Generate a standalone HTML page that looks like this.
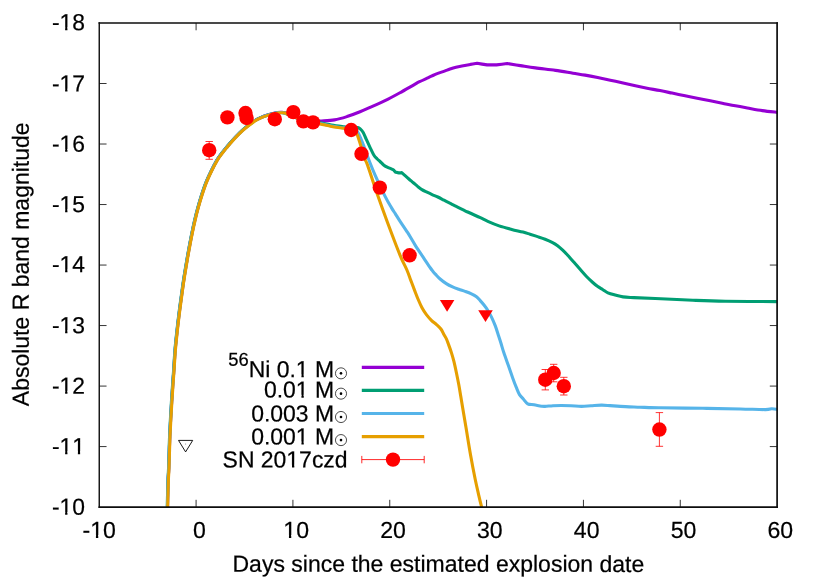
<!DOCTYPE html>
<html><head><meta charset="utf-8"><title>plot</title>
<style>html,body{margin:0;padding:0;background:#fff;}svg{display:block;will-change:transform;}text{font-family:"Liberation Sans",sans-serif;font-size:23.3px;fill:#000;stroke:#000;stroke-width:0.22px;text-rendering:geometricPrecision;font-kerning:none;font-variant-ligatures:none;}</style></head><body>
<svg width="830" height="581" viewBox="0 0 830 581">
<rect x="0" y="0" width="830" height="581" fill="#ffffff"/>
<g stroke="#000" stroke-width="0.8" fill="none" stroke-linecap="butt">
<path d="M99.25,83.51 h7.3 M777.1,83.51 h-7.3"/>
<path d="M99.25,144.03 h7.3 M777.1,144.03 h-7.3"/>
<path d="M99.25,204.54 h7.3 M777.1,204.54 h-7.3"/>
<path d="M99.25,265.05 h7.3 M777.1,265.05 h-7.3"/>
<path d="M99.25,325.56 h7.3 M777.1,325.56 h-7.3"/>
<path d="M99.25,386.08 h7.3 M777.1,386.08 h-7.3"/>
<path d="M99.25,446.59 h7.3 M777.1,446.59 h-7.3"/>
<path d="M196.09,507.1 v-7.3 M196.09,23.0 v7.3"/>
<path d="M292.92,507.1 v-7.3 M292.92,23.0 v7.3"/>
<path d="M389.76,507.1 v-7.3 M389.76,23.0 v7.3"/>
<path d="M486.59,507.1 v-7.3 M486.59,23.0 v7.3"/>
<path d="M583.43,507.1 v-7.3 M583.43,23.0 v7.3"/>
<path d="M680.26,507.1 v-7.3 M680.26,23.0 v7.3"/>
</g>
<g transform="translate(84.95,30.25) rotate(0.03) scale(0.98,1)"><text text-anchor="end" >-18</text><rect x="-25.14" y="-2.89" width="4.94" height="4.09" fill="#fff"/><rect x="-17.86" y="-2.89" width="4.76" height="4.09" fill="#fff"/></g>
<g transform="translate(84.95,91.55) rotate(0.03) scale(0.98,1)"><text text-anchor="end" >-17</text><rect x="-25.14" y="-2.89" width="4.94" height="4.09" fill="#fff"/><rect x="-17.86" y="-2.89" width="4.76" height="4.09" fill="#fff"/></g>
<g transform="translate(84.95,151.8) rotate(0.03) scale(0.98,1)"><text text-anchor="end" >-16</text><rect x="-25.14" y="-2.89" width="4.94" height="4.09" fill="#fff"/><rect x="-17.86" y="-2.89" width="4.76" height="4.09" fill="#fff"/></g>
<g transform="translate(84.95,212.25) rotate(0.03) scale(0.98,1)"><text text-anchor="end" >-15</text><rect x="-25.14" y="-2.89" width="4.94" height="4.09" fill="#fff"/><rect x="-17.86" y="-2.89" width="4.76" height="4.09" fill="#fff"/></g>
<g transform="translate(84.95,272.3) rotate(0.03) scale(0.98,1)"><text text-anchor="end" >-14</text><rect x="-25.14" y="-2.89" width="4.94" height="4.09" fill="#fff"/><rect x="-17.86" y="-2.89" width="4.76" height="4.09" fill="#fff"/></g>
<g transform="translate(84.95,333.25) rotate(0.03) scale(0.98,1)"><text text-anchor="end" >-13</text><rect x="-25.14" y="-2.89" width="4.94" height="4.09" fill="#fff"/><rect x="-17.86" y="-2.89" width="4.76" height="4.09" fill="#fff"/></g>
<g transform="translate(84.95,393.7) rotate(0.03) scale(0.98,1)"><text text-anchor="end" >-12</text><rect x="-25.14" y="-2.89" width="4.94" height="4.09" fill="#fff"/><rect x="-17.86" y="-2.89" width="4.76" height="4.09" fill="#fff"/></g>
<g transform="translate(84.95,454.25) rotate(0.03) scale(0.98,1)"><text text-anchor="end" >-11</text><rect x="-25.14" y="-2.89" width="4.94" height="4.09" fill="#fff"/><rect x="-17.86" y="-2.89" width="4.76" height="4.09" fill="#fff"/><rect x="-12.18" y="-2.89" width="4.94" height="4.09" fill="#fff"/><rect x="-4.90" y="-2.89" width="4.76" height="4.09" fill="#fff"/></g>
<g transform="translate(84.95,514.8) rotate(0.03) scale(0.98,1)"><text text-anchor="end" >-10</text><rect x="-25.14" y="-2.89" width="4.94" height="4.09" fill="#fff"/><rect x="-17.86" y="-2.89" width="4.76" height="4.09" fill="#fff"/></g>
<g transform="translate(99.25,537.9) rotate(0.03) scale(0.99,1)"><text text-anchor="middle" xml:space="preserve">-10</text><rect x="-8.30" y="-2.89" width="4.94" height="4.09" fill="#fff"/><rect x="-1.02" y="-2.89" width="4.76" height="4.09" fill="#fff"/></g>
<text transform="translate(196.09,537.9) rotate(0.03) scale(0.99,1)" text-anchor="middle" xml:space="preserve"> 0</text>
<g transform="translate(292.92,537.9) rotate(0.03) scale(0.99,1)"><text text-anchor="middle" xml:space="preserve"> 10</text><rect x="-8.95" y="-2.89" width="4.94" height="4.09" fill="#fff"/><rect x="-1.66" y="-2.89" width="4.76" height="4.09" fill="#fff"/></g>
<text transform="translate(389.76,537.9) rotate(0.03) scale(0.99,1)" text-anchor="middle" xml:space="preserve"> 20</text>
<text transform="translate(486.59,537.9) rotate(0.03) scale(0.99,1)" text-anchor="middle" xml:space="preserve"> 30</text>
<text transform="translate(583.43,537.9) rotate(0.03) scale(0.99,1)" text-anchor="middle" xml:space="preserve"> 40</text>
<text transform="translate(680.26,537.9) rotate(0.03) scale(0.99,1)" text-anchor="middle" xml:space="preserve"> 50</text>
<text transform="translate(777.1,537.9) rotate(0.03) scale(0.99,1)" text-anchor="middle" xml:space="preserve"> 60</text>
<text transform="translate(438.4,571.8) rotate(0.03) scale(0.9875,1)" text-anchor="middle" >Days since the estimated explosion date</text>
<text transform="translate(28.7,264.3) rotate(-90.03) scale(0.987,1)" text-anchor="middle" >Absolute R band magnitude</text>
<defs><clipPath id="c"><rect x="99.25" y="23.0" width="677.85" height="484.1"/></clipPath></defs>
<g fill="none" stroke-width="3.1" stroke-linejoin="round" stroke-linecap="butt" clip-path="url(#c)">
<path stroke="#9400D3" d="M167.50,506.65 C167.62,502.15 167.98,486.08 168.20,479.65 C168.42,473.22 168.53,475.22 168.80,468.05 C169.07,460.88 169.40,446.38 169.80,436.65 C170.20,426.92 170.70,418.32 171.20,409.65 C171.70,400.98 172.38,390.87 172.80,384.65 C173.22,378.43 173.30,378.13 173.70,372.35 C174.10,366.57 174.63,356.83 175.20,349.95 C175.77,343.07 176.47,336.92 177.10,331.05 C177.73,325.18 178.35,319.98 179.00,314.75 C179.65,309.52 180.20,305.50 181.00,299.65 C181.80,293.80 182.78,286.32 183.80,279.65 C184.82,272.98 186.10,265.48 187.10,259.65 C188.10,253.82 188.95,249.20 189.80,244.65 C190.65,240.10 191.35,236.47 192.20,232.35 C193.05,228.23 193.92,224.12 194.90,219.95 C195.88,215.78 196.95,211.53 198.10,207.35 C199.25,203.17 200.45,199.03 201.80,194.85 C203.15,190.67 204.62,186.23 206.20,182.25 C207.78,178.27 209.45,174.72 211.30,170.95 C213.15,167.18 215.47,162.70 217.30,159.65 C219.13,156.60 220.65,154.83 222.30,152.65 C223.95,150.47 225.95,148.08 227.20,146.55 C228.45,145.02 228.37,145.07 229.80,143.45 C231.23,141.83 233.70,139.03 235.80,136.85 C237.90,134.67 240.32,132.27 242.40,130.35 C244.48,128.43 246.22,126.98 248.30,125.35 C250.38,123.72 252.82,121.85 254.90,120.55 C256.98,119.25 258.70,118.47 260.80,117.55 C262.90,116.63 265.50,115.72 267.50,115.05 C269.50,114.38 271.13,113.95 272.80,113.55 C274.47,113.15 276.17,112.85 277.50,112.65 C278.83,112.45 279.58,112.33 280.80,112.35 C282.02,112.37 282.83,112.12 284.80,112.75 C286.77,113.38 289.22,114.87 292.60,116.15 C295.98,117.43 301.87,119.53 305.10,120.45 C308.33,121.38 309.50,121.59 312.00,121.70 C314.50,121.81 316.35,121.40 320.10,121.10 C323.85,120.80 330.02,120.65 334.50,119.90 C338.98,119.15 342.75,117.95 347.00,116.60 C351.25,115.25 355.77,113.52 360.00,111.80 C364.23,110.08 368.23,108.15 372.40,106.30 C376.57,104.45 380.48,102.92 385.00,100.70 C389.52,98.48 394.68,95.65 399.50,93.00 C404.32,90.35 410.57,86.68 413.90,84.80 C417.23,82.92 417.08,82.90 419.50,81.70 C421.92,80.50 426.00,78.72 428.40,77.60 C430.80,76.48 432.43,75.67 433.90,75.00 C435.37,74.33 435.43,74.25 437.20,73.60 C438.97,72.95 442.37,71.87 444.50,71.10 C446.63,70.33 448.08,69.65 450.00,69.00 C451.92,68.35 453.78,67.75 456.00,67.20 C458.22,66.65 460.88,66.17 463.30,65.70 C465.72,65.23 468.20,64.80 470.50,64.40 C472.80,64.00 476.00,63.48 477.10,63.30 C478.77,63.57 485.43,64.63 487.10,64.90 C488.67,64.90 494.93,64.90 496.50,64.90 C498.28,64.67 505.42,63.73 507.20,63.50 C509.40,63.85 515.70,64.87 520.40,65.60 C525.10,66.33 529.57,67.10 535.40,67.90 C541.23,68.70 549.13,69.52 555.40,70.40 C561.67,71.28 568.05,72.42 573.00,73.20 C577.95,73.98 580.98,74.38 585.10,75.10 C589.22,75.82 593.50,76.66 597.70,77.50 C601.90,78.34 606.25,79.27 610.30,80.15 C614.35,81.03 617.82,81.86 622.00,82.80 C626.18,83.74 631.22,84.90 635.40,85.80 C639.58,86.70 643.00,87.40 647.10,88.20 C651.20,89.00 655.83,89.78 660.00,90.60 C664.17,91.42 667.92,92.23 672.10,93.10 C676.28,93.97 680.92,94.95 685.10,95.80 C689.28,96.65 693.00,97.37 697.20,98.20 C701.40,99.03 706.12,99.97 710.30,100.80 C714.48,101.63 718.12,102.36 722.30,103.20 C726.48,104.04 731.23,105.05 735.40,105.85 C739.57,106.65 742.80,107.21 747.30,108.00 C751.80,108.79 757.37,109.87 762.40,110.60 C767.43,111.33 774.98,112.10 777.50,112.40"/>
<path stroke="#009E73" d="M167.25,506.80 C167.37,502.30 167.73,486.23 167.95,479.80 C168.17,473.37 168.28,475.37 168.55,468.20 C168.82,461.03 169.15,446.53 169.55,436.80 C169.95,427.07 170.45,418.47 170.95,409.80 C171.45,401.13 172.13,391.02 172.55,384.80 C172.97,378.58 173.05,378.28 173.45,372.50 C173.85,366.72 174.38,356.98 174.95,350.10 C175.52,343.22 176.22,337.07 176.85,331.20 C177.48,325.33 178.10,320.13 178.75,314.90 C179.40,309.67 179.95,305.65 180.75,299.80 C181.55,293.95 182.53,286.47 183.55,279.80 C184.57,273.13 185.85,265.63 186.85,259.80 C187.85,253.97 188.70,249.35 189.55,244.80 C190.40,240.25 191.10,236.62 191.95,232.50 C192.80,228.38 193.67,224.27 194.65,220.10 C195.63,215.93 196.70,211.68 197.85,207.50 C199.00,203.32 200.20,199.18 201.55,195.00 C202.90,190.82 204.37,186.38 205.95,182.40 C207.53,178.42 209.20,174.87 211.05,171.10 C212.90,167.33 215.22,162.85 217.05,159.80 C218.88,156.75 220.40,154.98 222.05,152.80 C223.70,150.62 225.70,148.23 226.95,146.70 C228.20,145.17 228.12,145.22 229.55,143.60 C230.98,141.98 233.45,139.18 235.55,137.00 C237.65,134.82 240.07,132.42 242.15,130.50 C244.23,128.58 245.97,127.13 248.05,125.50 C250.13,123.87 252.57,122.00 254.65,120.70 C256.73,119.40 258.45,118.62 260.55,117.70 C262.65,116.78 265.25,115.87 267.25,115.20 C269.25,114.53 270.88,114.10 272.55,113.70 C274.22,113.30 275.92,113.00 277.25,112.80 C278.58,112.60 279.33,112.48 280.55,112.50 C281.77,112.52 282.58,112.27 284.55,112.90 C286.52,113.53 288.97,115.02 292.35,116.30 C295.73,117.58 300.21,119.52 304.85,120.60 C309.49,121.68 315.76,122.07 320.20,122.80 C324.64,123.53 327.53,124.33 331.50,125.00 C335.47,125.67 340.33,126.30 344.00,126.80 C347.67,127.30 351.20,127.87 353.50,128.00 C355.80,128.13 356.68,127.45 357.80,127.60 C358.92,127.75 359.30,128.08 360.20,128.90 C361.10,129.72 362.18,130.75 363.20,132.50 C364.22,134.25 365.15,136.88 366.30,139.40 C367.45,141.92 368.85,145.00 370.10,147.60 C371.35,150.20 372.65,153.13 373.80,155.00 C374.95,156.87 375.97,157.72 377.00,158.80 C378.03,159.88 378.90,160.48 380.00,161.50 C381.10,162.52 382.40,163.97 383.60,164.90 C384.80,165.83 386.00,166.48 387.20,167.10 C388.40,167.72 389.77,168.15 390.80,168.60 C391.83,169.05 392.97,169.60 393.40,169.80 C393.75,170.20 395.15,171.80 395.50,172.20 C396.05,172.32 397.77,172.83 398.80,172.90 C399.83,172.97 401.22,172.65 401.70,172.60 C402.18,173.03 403.40,174.13 404.60,175.20 C405.80,176.27 407.45,177.75 408.90,179.00 C410.35,180.25 411.85,181.47 413.30,182.70 C414.75,183.93 416.17,185.25 417.60,186.40 C419.03,187.55 420.33,188.63 421.90,189.60 C423.47,190.57 425.30,191.37 427.00,192.20 C428.70,193.03 430.30,193.80 432.10,194.60 C433.90,195.40 435.82,196.07 437.80,197.00 C439.78,197.93 441.92,199.13 444.00,200.20 C446.08,201.27 448.45,202.47 450.30,203.40 C452.15,204.33 452.20,204.37 455.10,205.80 C458.00,207.23 463.50,210.02 467.70,212.00 C471.90,213.98 476.95,216.13 480.30,217.70 C483.65,219.27 484.67,220.03 487.80,221.40 C490.93,222.77 495.12,224.57 499.10,225.90 C503.08,227.23 507.72,228.37 511.70,229.40 C515.68,230.43 519.95,231.30 523.00,232.10 C526.05,232.90 527.58,233.45 530.00,234.20 C532.42,234.95 534.98,235.77 537.50,236.60 C540.02,237.43 542.58,238.20 545.10,239.20 C547.62,240.20 550.52,241.52 552.60,242.60 C554.68,243.68 555.92,244.45 557.60,245.70 C559.28,246.95 561.02,248.52 562.70,250.10 C564.38,251.68 565.82,253.17 567.70,255.20 C569.58,257.23 571.90,259.90 574.00,262.30 C576.10,264.70 578.22,267.23 580.30,269.60 C582.38,271.97 584.42,274.35 586.50,276.50 C588.58,278.65 590.92,280.82 592.80,282.50 C594.68,284.18 596.12,285.40 597.80,286.60 C599.48,287.80 601.22,288.67 602.90,289.70 C604.58,290.73 605.82,291.90 607.90,292.80 C609.98,293.70 612.88,294.42 615.40,295.10 C617.92,295.78 619.90,296.48 623.00,296.90 C626.10,297.32 628.62,297.33 634.00,297.60 C639.38,297.87 645.48,298.05 655.30,298.50 C665.12,298.95 681.20,299.83 692.90,300.30 C704.60,300.77 711.40,301.08 725.50,301.30 C739.60,301.52 768.83,301.55 777.50,301.60"/>
<path stroke="#56B4E9" d="M167.45,506.90 C167.57,502.40 167.93,486.33 168.15,479.90 C168.37,473.47 168.48,475.47 168.75,468.30 C169.02,461.13 169.35,446.63 169.75,436.90 C170.15,427.17 170.65,418.57 171.15,409.90 C171.65,401.23 172.33,391.12 172.75,384.90 C173.17,378.68 173.25,378.38 173.65,372.60 C174.05,366.82 174.58,357.08 175.15,350.20 C175.72,343.32 176.42,337.17 177.05,331.30 C177.68,325.43 178.30,320.23 178.95,315.00 C179.60,309.77 180.15,305.75 180.95,299.90 C181.75,294.05 182.73,286.57 183.75,279.90 C184.77,273.23 186.05,265.73 187.05,259.90 C188.05,254.07 188.90,249.45 189.75,244.90 C190.60,240.35 191.30,236.72 192.15,232.60 C193.00,228.48 193.87,224.37 194.85,220.20 C195.83,216.03 196.90,211.78 198.05,207.60 C199.20,203.42 200.40,199.28 201.75,195.10 C203.10,190.92 204.57,186.48 206.15,182.50 C207.73,178.52 209.40,174.97 211.25,171.20 C213.10,167.43 215.42,162.95 217.25,159.90 C219.08,156.85 220.60,155.08 222.25,152.90 C223.90,150.72 225.90,148.33 227.15,146.80 C228.40,145.27 228.32,145.32 229.75,143.70 C231.18,142.08 233.65,139.28 235.75,137.10 C237.85,134.92 240.27,132.52 242.35,130.60 C244.43,128.68 246.17,127.23 248.25,125.60 C250.33,123.97 252.77,122.10 254.85,120.80 C256.93,119.50 258.65,118.72 260.75,117.80 C262.85,116.88 265.45,115.97 267.45,115.30 C269.45,114.63 271.08,114.20 272.75,113.80 C274.42,113.40 276.12,113.10 277.45,112.90 C278.78,112.70 279.53,112.58 280.75,112.60 C281.97,112.62 282.78,112.37 284.75,113.00 C286.72,113.63 289.17,115.12 292.55,116.40 C295.93,117.68 300.44,119.52 305.05,120.70 C309.66,121.88 315.79,122.62 320.20,123.50 C324.61,124.38 327.53,125.27 331.50,126.00 C335.47,126.73 340.33,127.30 344.00,127.90 C347.67,128.50 351.23,128.92 353.50,129.60 C355.77,130.28 356.45,130.65 357.60,132.00 C358.75,133.35 359.10,134.65 360.40,137.70 C361.70,140.75 363.95,146.50 365.40,150.30 C366.85,154.10 367.48,156.37 369.10,160.50 C370.72,164.63 372.43,169.12 375.10,175.10 C377.77,181.08 382.38,190.98 385.10,196.40 C387.82,201.82 389.68,204.68 391.40,207.60 C393.12,210.52 394.08,211.82 395.40,213.90 C396.72,215.98 397.25,216.97 399.30,220.10 C401.35,223.23 405.03,228.50 407.70,232.70 C410.37,236.90 412.65,241.12 415.30,245.30 C417.95,249.48 421.08,254.02 423.60,257.80 C426.12,261.58 428.90,265.82 430.40,268.00 C431.90,270.18 431.73,269.83 432.60,270.90 C433.47,271.97 434.35,273.05 435.60,274.40 C436.85,275.75 438.32,277.47 440.10,279.00 C441.88,280.53 444.22,282.28 446.30,283.60 C448.38,284.92 450.52,285.95 452.60,286.90 C454.68,287.85 456.72,288.55 458.80,289.30 C460.88,290.05 463.00,290.63 465.10,291.40 C467.20,292.17 469.50,293.00 471.40,293.90 C473.30,294.80 475.03,295.68 476.50,296.80 C477.97,297.92 478.95,299.23 480.20,300.60 C481.45,301.97 482.75,303.40 484.00,305.00 C485.25,306.60 486.45,308.18 487.70,310.20 C488.95,312.22 490.23,314.48 491.50,317.10 C492.77,319.72 494.18,322.97 495.30,325.90 C496.42,328.83 497.27,331.85 498.20,334.70 C499.13,337.55 499.97,340.02 500.90,343.00 C501.83,345.98 502.58,348.92 503.80,352.60 C505.02,356.28 506.73,360.92 508.20,365.10 C509.67,369.28 511.23,373.93 512.60,377.70 C513.97,381.47 515.25,384.88 516.40,387.70 C517.55,390.52 518.35,392.72 519.50,394.60 C520.65,396.48 521.93,397.47 523.30,399.00 C524.67,400.53 525.92,402.83 527.70,403.80 C529.48,404.77 531.70,404.40 534.00,404.80 C536.30,405.20 539.67,405.93 541.50,406.20 C543.33,406.47 543.08,406.48 545.00,406.40 C546.92,406.32 550.28,405.86 553.00,405.70 C555.72,405.54 558.30,405.45 561.30,405.45 C564.30,405.45 567.65,405.54 571.00,405.70 C574.35,405.86 578.07,406.38 581.40,406.40 C584.73,406.42 587.65,406.01 591.00,405.80 C594.35,405.59 598.33,405.18 601.50,405.15 C604.67,405.12 606.85,405.39 610.00,405.60 C613.15,405.81 615.40,406.13 620.40,406.40 C625.40,406.67 635.23,407.00 640.00,407.20 C644.77,407.40 645.67,407.50 649.00,407.60 C652.33,407.70 651.03,407.68 660.00,407.80 C668.97,407.92 689.40,408.10 702.80,408.30 C716.20,408.50 729.97,408.78 740.40,409.00 C750.83,409.22 760.18,409.63 765.40,409.60 C770.62,409.57 769.68,408.85 771.70,408.80 C773.72,408.75 776.53,409.22 777.50,409.30"/>
<path stroke="#E69F00" d="M167.70,507.00 C167.82,502.50 168.18,486.43 168.40,480.00 C168.62,473.57 168.73,475.57 169.00,468.40 C169.27,461.23 169.60,446.73 170.00,437.00 C170.40,427.27 170.90,418.67 171.40,410.00 C171.90,401.33 172.58,391.22 173.00,385.00 C173.42,378.78 173.50,378.48 173.90,372.70 C174.30,366.92 174.83,357.18 175.40,350.30 C175.97,343.42 176.67,337.27 177.30,331.40 C177.93,325.53 178.55,320.33 179.20,315.10 C179.85,309.87 180.40,305.85 181.20,300.00 C182.00,294.15 182.98,286.67 184.00,280.00 C185.02,273.33 186.30,265.83 187.30,260.00 C188.30,254.17 189.15,249.55 190.00,245.00 C190.85,240.45 191.55,236.82 192.40,232.70 C193.25,228.58 194.12,224.47 195.10,220.30 C196.08,216.13 197.15,211.88 198.30,207.70 C199.45,203.52 200.65,199.38 202.00,195.20 C203.35,191.02 204.82,186.58 206.40,182.60 C207.98,178.62 209.65,175.07 211.50,171.30 C213.35,167.53 215.67,163.05 217.50,160.00 C219.33,156.95 220.85,155.18 222.50,153.00 C224.15,150.82 226.15,148.43 227.40,146.90 C228.65,145.37 228.57,145.42 230.00,143.80 C231.43,142.18 233.90,139.38 236.00,137.20 C238.10,135.02 240.52,132.62 242.60,130.70 C244.68,128.78 246.42,127.33 248.50,125.70 C250.58,124.07 253.02,122.20 255.10,120.90 C257.18,119.60 258.90,118.82 261.00,117.90 C263.10,116.98 265.70,116.07 267.70,115.40 C269.70,114.73 271.33,114.30 273.00,113.90 C274.67,113.50 276.37,113.20 277.70,113.00 C279.03,112.80 279.78,112.68 281.00,112.70 C282.22,112.72 283.03,112.47 285.00,113.10 C286.97,113.73 289.42,115.22 292.80,116.50 C296.18,117.78 300.73,119.57 305.30,120.80 C309.87,122.03 315.83,122.97 320.20,123.90 C324.57,124.83 327.53,125.67 331.50,126.40 C335.47,127.13 340.43,127.65 344.00,128.30 C347.57,128.95 350.80,129.43 352.90,130.30 C355.00,131.17 355.57,131.83 356.60,133.50 C357.63,135.17 358.15,137.47 359.10,140.30 C360.05,143.13 361.23,147.13 362.30,150.50 C363.37,153.87 364.63,158.07 365.50,160.50 C366.37,162.93 365.48,159.33 367.50,165.10 C369.52,170.87 374.25,185.50 377.60,195.10 C380.95,204.70 383.85,212.67 387.60,222.70 C391.35,232.73 396.88,247.42 400.10,255.30 C403.32,263.18 405.13,265.87 406.90,270.00 C408.67,274.13 409.43,276.75 410.70,280.10 C411.97,283.45 413.25,286.87 414.50,290.10 C415.75,293.33 416.95,296.57 418.20,299.50 C419.45,302.43 420.63,305.18 422.00,307.70 C423.37,310.22 424.83,312.50 426.40,314.60 C427.97,316.70 429.72,318.63 431.40,320.30 C433.08,321.97 434.92,323.15 436.50,324.60 C438.08,326.05 439.67,327.35 440.90,329.00 C442.13,330.65 442.97,332.82 443.90,334.50 C444.83,336.18 445.77,337.55 446.50,339.10 C447.23,340.65 447.48,341.55 448.30,343.80 C449.12,346.05 450.47,349.67 451.40,352.60 C452.33,355.53 453.07,358.05 453.90,361.40 C454.73,364.75 455.57,368.72 456.40,372.70 C457.23,376.68 458.17,381.32 458.90,385.30 C459.63,389.28 460.17,392.82 460.80,396.60 C461.43,400.38 461.83,402.83 462.70,408.00 C463.57,413.17 464.68,419.73 466.00,427.60 C467.32,435.47 469.07,446.60 470.60,455.20 C472.13,463.80 473.82,472.43 475.20,479.20 C476.58,485.97 477.82,491.08 478.90,495.80 C479.98,500.52 481.23,505.55 481.70,507.50"/>
</g>
<g fill="none" stroke-width="3.1">
<path stroke="#9400D3" d="M361.8,367.4 H424.2"/>
<path stroke="#009E73" d="M361.8,390.4 H424.2"/>
<path stroke="#56B4E9" d="M361.8,413.5 H424.2"/>
<path stroke="#E69F00" d="M361.8,436.6 H424.2"/>
</g>
<g transform="translate(334.1,377.3) rotate(0.03) scale(0.985,1)"><text text-anchor="end" ><tspan font-size="18.64" dy="-11.4">56</tspan><tspan dy="11.4">Ni 0.1 M</tspan></text><rect x="-38.07" y="-2.89" width="4.94" height="4.09" fill="#fff"/><rect x="-30.78" y="-2.89" width="4.76" height="4.09" fill="#fff"/></g>
<circle cx="341.0" cy="373.35" r="5.55" fill="none" stroke="#000" stroke-width="0.7"/><circle cx="341.0" cy="373.35" r="1.3" fill="#000"/>
<g transform="translate(334.1,397.65) rotate(0.03) scale(0.985,1)"><text text-anchor="end" >0.01 M</text><rect x="-38.07" y="-2.89" width="4.94" height="4.09" fill="#fff"/><rect x="-30.78" y="-2.89" width="4.76" height="4.09" fill="#fff"/></g>
<circle cx="341.0" cy="393.65" r="5.55" fill="none" stroke="#000" stroke-width="0.7"/><circle cx="341.0" cy="393.65" r="1.3" fill="#000"/>
<text transform="translate(334.1,421.45) rotate(0.03) scale(0.985,1)" text-anchor="end" >0.003 M</text>
<circle cx="341.0" cy="417.0" r="5.55" fill="none" stroke="#000" stroke-width="0.7"/><circle cx="341.0" cy="417.0" r="1.3" fill="#000"/>
<g transform="translate(334.1,444.45) rotate(0.03) scale(0.985,1)"><text text-anchor="end" >0.001 M</text><rect x="-38.07" y="-2.89" width="4.94" height="4.09" fill="#fff"/><rect x="-30.78" y="-2.89" width="4.76" height="4.09" fill="#fff"/></g>
<circle cx="341.0" cy="440.1" r="5.55" fill="none" stroke="#000" stroke-width="0.7"/><circle cx="341.0" cy="440.1" r="1.3" fill="#000"/>
<g transform="translate(347.6,467.55) rotate(0.03) scale(0.985,1)"><text text-anchor="end" >SN 2017czd</text><rect x="-61.40" y="-2.89" width="4.94" height="4.09" fill="#fff"/><rect x="-54.12" y="-2.89" width="4.76" height="4.09" fill="#fff"/></g>
<g stroke="#FF0000" stroke-width="0.85" fill="none"><path d="M361.8,459.6 H424.2 M361.8,455.90000000000003 v7.4 M424.2,455.90000000000003 v7.4"/></g>
<circle cx="393.0" cy="459.6" r="7.2" fill="#FF0000"/>
<path d="M178.5,440.4 H192.7 L185.6,451.9 Z" fill="none" stroke="#000" stroke-width="0.9" stroke-linejoin="round"/>
<circle cx="185.6" cy="444.09999999999997" r="0.5" fill="#777"/>
<path d="M439.9,300.0 H454.4 L447.1,311.7 Z" fill="#FF0000"/>
<path d="M478.2,310.2 H492.8 L485.5,321.9 Z" fill="#FF0000"/>
<g stroke="#FF0000" stroke-width="0.8" fill="none">
<path d="M209.2,141.5 V159.3 M205.5,141.5 h7.4 M205.5,159.3 h7.4"/>
<path d="M545.3,369.5 V389.9 M541.5999999999999,369.5 h7.4 M541.5999999999999,389.9 h7.4"/>
<path d="M553.7,364.3 V381.8 M550.0,364.3 h7.4 M550.0,381.8 h7.4"/>
<path d="M563.8,377.3 V395.0 M560.0999999999999,377.3 h7.4 M560.0999999999999,395.0 h7.4"/>
<path d="M659.4,412.6 V446.3 M655.6999999999999,412.6 h7.4 M655.6999999999999,446.3 h7.4"/>
</g>
<circle cx="209.2" cy="150.2" r="7.2" fill="#FF0000"/>
<circle cx="227.4" cy="117.4" r="7.2" fill="#FF0000"/>
<circle cx="245.5" cy="113.0" r="7.2" fill="#FF0000"/>
<circle cx="246.6" cy="118.0" r="7.2" fill="#FF0000"/>
<circle cx="274.8" cy="119.2" r="7.2" fill="#FF0000"/>
<circle cx="293.3" cy="112.1" r="7.2" fill="#FF0000"/>
<circle cx="303.4" cy="121.4" r="7.2" fill="#FF0000"/>
<circle cx="313.0" cy="122.4" r="7.2" fill="#FF0000"/>
<circle cx="351.2" cy="130.0" r="7.2" fill="#FF0000"/>
<circle cx="361.5" cy="153.8" r="7.2" fill="#FF0000"/>
<circle cx="379.8" cy="187.6" r="7.2" fill="#FF0000"/>
<circle cx="409.6" cy="255.3" r="7.2" fill="#FF0000"/>
<circle cx="545.3" cy="379.7" r="7.2" fill="#FF0000"/>
<circle cx="553.7" cy="373.0" r="7.2" fill="#FF0000"/>
<circle cx="563.8" cy="386.2" r="7.2" fill="#FF0000"/>
<circle cx="659.4" cy="429.55" r="7.2" fill="#FF0000"/>
<g stroke="#0d0d0d" fill="none" stroke-linecap="butt">
<path stroke-width="1.4" d="M99.25,22.2 V507.92"/>
<path stroke-width="1.7" d="M777.1,22.2 V507.92"/>
<path stroke-width="1.6" d="M98.55,23.0 H777.95"/>
<path stroke-width="1.65" d="M98.55,507.1 H777.95"/>
</g>
</svg></body></html>
